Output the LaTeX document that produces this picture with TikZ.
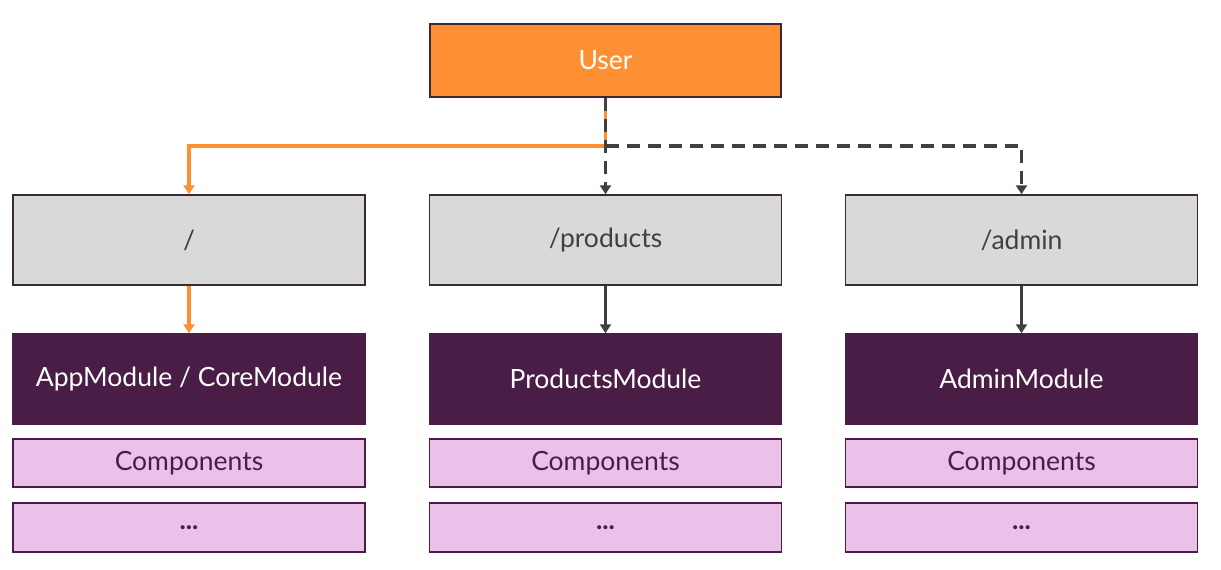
\documentclass[tikz,border=0pt]{standalone}
\usepackage{fontspec}
\setmainfont{Lato}
\usetikzlibrary{arrows.meta}
\definecolor{userorange}{HTML}{FF8F33}
\definecolor{routegray}{HTML}{D9D9D9}
\definecolor{modpurple}{HTML}{4A1D46}
\definecolor{comppink}{HTML}{EBC0E9}
\definecolor{linegray}{HTML}{404040}
\definecolor{bordercol}{HTML}{3A2A38}
\tikzset{
  boxbase/.style={draw=bordercol, line width=1.5pt, inner sep=0pt, font=\fontsize{26.5}{30}\selectfont},
  userbox/.style={boxbase, fill=userorange, text=white, minimum width=351pt, minimum height=73pt},
  routebox/.style={boxbase, fill=routegray, text=linegray, minimum width=352pt, minimum height=90pt},
  modbox/.style={boxbase, draw=modpurple, fill=modpurple, text=white, minimum width=352pt, minimum height=90pt},
  compbox/.style={boxbase, draw=modpurple, fill=comppink, text=modpurple, minimum width=352pt, minimum height=48pt},
  orangeline/.style={draw=userorange, line width=3.4pt, -{Triangle[width=11pt,length=9pt]}},
  grayline/.style={draw=linegray, line width=3.4pt, -{Triangle[width=11pt,length=9pt]}},
  dashline/.style={draw=linegray, line width=3.4pt, dash pattern=on 13pt off 8pt, -{Triangle[width=11pt,length=9pt]}}
}
\begin{document}
\begin{tikzpicture}[x=1pt,y=-1pt]
\useasboundingbox[fill=white] (0,0) rectangle (1221,570);
\node[userbox] (user) at (605.5,60.5) {User};
\node[routebox] (r1) at (189,240) {/};
\node[routebox] (r2) at (605.5,240) {/products};
\node[routebox] (r3) at (1021.5,240) {/admin};
\node[modbox] (m1) at (189,379) {AppModule / CoreModule};
\node[modbox] (m2) at (605.5,379) {ProductsModule};
\node[modbox] (m3) at (1021.5,379) {AdminModule};
\node[compbox] (c1) at (189,463) {Components};
\node[compbox] (c2) at (605.5,463) {Components};
\node[compbox] (c3) at (1021.5,463) {Components};
\node[compbox, minimum height=49pt] (d1) at (189,527.5) {\textbf{...}};
\node[compbox, minimum height=49pt] (d2) at (605.5,527.5) {\textbf{...}};
\node[compbox, minimum height=49pt] (d3) at (1021.5,527.5) {\textbf{...}};
\coordinate (j) at (605.5,146);
\draw[orangeline] (user.south) -- (j) -| (r1.north);
\draw[dashline] (user.south) -- (r2.north);
\draw[dashline] (j) -| (r3.north);
\draw[orangeline] (r1.south) -- (m1.north);
\draw[grayline] (r2.south) -- (m2.north);
\draw[grayline] (r3.south) -- (m3.north);
\end{tikzpicture}
\end{document}
